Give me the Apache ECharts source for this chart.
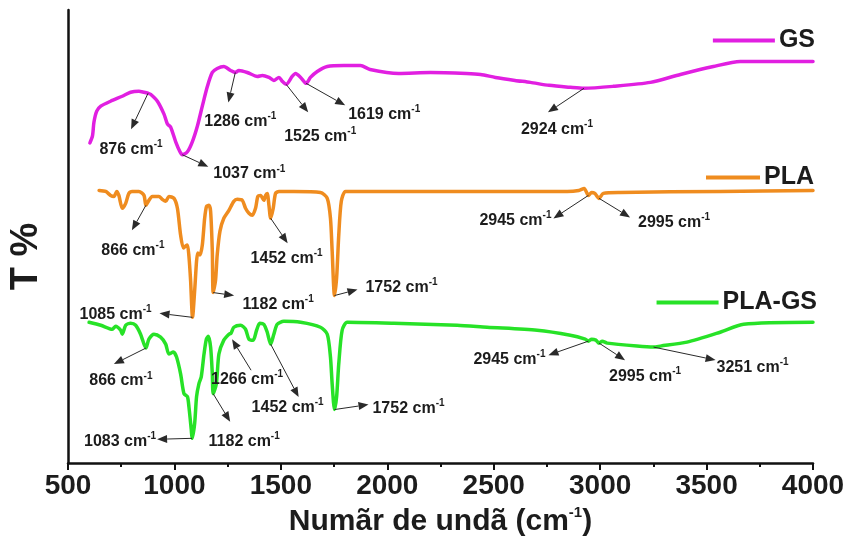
<!DOCTYPE html>
<html>
<head>
<meta charset="utf-8">
<script src="https://cdn.jsdelivr.net/npm/echarts@6/dist/echarts.min.js"></script>
<style>
  html, body { margin: 0; padding: 0; background: #ffffff; }
  #chart { width: 848px; height: 542px; }
</style>
</head>
<body>
<div id="chart"></div>
<script>
// FTIR spectra, offset transmittance (arbitrary units) vs wavenumber (cm-1)
const gsWn = [603, 615, 622, 635, 654, 700, 755, 794, 833, 857, 876, 888, 920, 951, 967, 982, 1006, 1026, 1037, 1061, 1084, 1108, 1131, 1155, 1178, 1201, 1232, 1264, 1286, 1303, 1342, 1389, 1413, 1444, 1467, 1491, 1507, 1525, 1553, 1569, 1593, 1619, 1639, 1671, 1718, 1796, 1874, 1919, 2053, 2203, 2372, 2438, 2508, 2600, 2672, 2760, 2860, 2924, 3062, 3236, 3377, 3532, 3658, 4000];
const gsT  = [323, 330, 344, 355, 360, 365, 370, 374, 375, 374, 373, 372, 365, 352, 342, 339, 324, 314, 311, 314, 324, 340, 360, 380, 394, 398, 400, 396, 394, 396, 394, 390, 391, 389, 386, 389, 385, 382, 390, 393, 389, 383, 389, 395, 400, 401, 401, 397, 393, 394, 393, 392, 389, 386, 384, 381, 379, 378, 380, 384, 392, 400, 405, 405];

const plaWn = [646, 677, 700, 716, 729, 739, 755, 771, 786, 802, 833, 857, 866, 880, 896, 927, 943, 959, 974, 998, 1014, 1029, 1042, 1053, 1061, 1068, 1076, 1085, 1096, 1104, 1110, 1120, 1131, 1142, 1151, 1162, 1170, 1178, 1182, 1193, 1201, 1214, 1232, 1256, 1279, 1295, 1319, 1334, 1350, 1366, 1381, 1392, 1405, 1420, 1428, 1436, 1444, 1452, 1464, 1475, 1491, 1561, 1686, 1718, 1733, 1741, 1752, 1762, 1772, 1784, 1804, 1874, 2344, 2845, 2900, 2925, 2945, 2960, 2975, 2995, 3015, 3095, 3564, 4000];
const plaT  = [275, 274, 270, 269, 274, 270, 257, 262, 272, 274, 274, 270, 260, 265, 269, 269, 266, 264, 269, 267, 257, 230, 217, 219, 220, 209, 184, 147, 177, 204, 212, 210, 220, 247, 259, 260, 254, 214, 172, 184, 210, 234, 247, 255, 264, 266, 265, 257, 252, 250, 257, 269, 270, 265, 270, 272, 260, 247, 257, 272, 274, 274, 273, 267, 247, 214, 169, 187, 230, 264, 274, 274, 274, 274, 275, 277, 270, 273, 272, 267, 272, 273, 274, 275];

const plaGsWn = [599, 654, 708, 724, 747, 755, 771, 794, 818, 841, 866, 880, 904, 935, 959, 974, 995, 1010, 1029, 1045, 1061, 1068, 1079, 1083, 1095, 1104, 1115, 1126, 1139, 1150, 1159, 1170, 1178, 1182, 1197, 1209, 1232, 1256, 1266, 1279, 1311, 1334, 1350, 1370, 1386, 1401, 1420, 1436, 1452, 1467, 1483, 1514, 1593, 1686, 1718, 1733, 1741, 1752, 1762, 1772, 1788, 1812, 2031, 2328, 2469, 2704, 2860, 2930, 2945, 2960, 2980, 2995, 3010, 3033, 3173, 3251, 3283, 3408, 3564, 3674, 4000];
const plaGsT  = [142, 139, 135, 138, 134, 130, 139, 141, 139, 130, 116, 125, 130, 127, 120, 110, 112, 107, 90, 70, 67, 57, 34, 25, 40, 67, 80, 87, 110, 125, 128, 117, 90, 70, 80, 110, 124, 130, 131, 137, 139, 135, 125, 124, 134, 141, 140, 132, 120, 130, 140, 143, 142, 137, 130, 107, 80, 54, 67, 100, 134, 142, 141, 139, 137, 134, 129, 125, 123, 125, 124, 121, 123, 121, 118, 117, 118, 122, 132, 140, 142];

// Labelled band positions (cm-1)
const gsPeaks    = [876, 1037, 1286, 1525, 1619, 2924];
const plaPeaks   = [866, 1085, 1182, 1452, 1752, 2945, 2995];
const plaGsPeaks = [866, 1083, 1182, 1266, 1452, 1752, 2945, 2995, 3251];

const seriesColors = ['#e11fe1', '#ef8c1f', '#27e227'];

// Callout placement in pixels, relative to the band's point on its curve.
// tip = arrow head, text = label centre, from = arrow tail (default: the curve point)
const calloutLayout = {
  'GS-876':  { tip: [-17, 36], text: [-17, 56] },
  'GS-1037': { tip: [26, 12],  text: [67, 19] },
  'GS-1286': { tip: [-7, 30],  text: [5, 49] },
  'GS-1525': { tip: [22, 28],  text: [34, 52] },
  'GS-1619': { tip: [39, 22],  text: [78, 31] },
  'GS-2924': { tip: [-36, 24], text: [-27, 41] },
  'PLA-866':  { tip: [-14, 25], text: [-13, 45] },
  'PLA-1085': { tip: [-33, -4], text: [-77, -3] },
  'PLA-1182': { tip: [21, 3],   text: [65, 12] },
  'PLA-1452': { tip: [17, 25],  text: [16, 40] },
  'PLA-1752': { tip: [23, -6],  text: [67, -8] },
  'PLA-2945': { tip: [-35, 23], text: [-73, 25] },
  'PLA-2995': { tip: [31, 19],  text: [75, 24] },
  'PLA-GS-866':  { tip: [-32, 16], text: [-25, 33] },
  'PLA-GS-1083': { tip: [-35, 1],  text: [-72, 3] },
  'PLA-GS-1182': { tip: [17, 28],  text: [31, 48] },
  'PLA-GS-1266': { from: [20, 37], tip: [1, 6], text: [16, 46] },
  'PLA-GS-1452': { tip: [28, 53],  text: [17, 63] },
  'PLA-GS-1752': { tip: [34, -5],  text: [74, -1] },
  'PLA-GS-2945': { tip: [-40, 14], text: [-79, 18] },
  'PLA-GS-2995': { tip: [26, 17],  text: [46, 33] },
  'PLA-GS-3251': { tip: [62, 13],  text: [99, 20] }
};

const spectra = [
  { name: 'GS', wn: gsWn, t: gsT, peaks: gsPeaks },
  { name: 'PLA', wn: plaWn, t: plaT, peaks: plaPeaks },
  { name: 'PLA-GS', wn: plaGsWn, t: plaGsT, peaks: plaGsPeaks }
];

const FONT = '"Liberation Sans", Arial, sans-serif';
const INK = '#1c1c1c';

const chart = echarts.init(document.getElementById('chart'), null, { renderer: 'canvas' });

function legendFor(name, right, top, width) {
  return {
    data: [name], right: right, top: top, padding: 0,
    icon: 'rect', itemWidth: width, itemHeight: 4, itemGap: 0,
    selectedMode: false,
    textStyle: { fontFamily: FONT, fontWeight: 'bold', fontSize: 25, color: INK, padding: [0, 0, 0, -1] }
  };
}

chart.setOption({
  animation: false,
  backgroundColor: '#ffffff',
  grid: { left: 67, right: 35, top: 10, bottom: 75, containLabel: false },
  legend: [
    legendFor('GS', 33, 28, 62),
    legendFor('PLA', 34, 165, 54),
    legendFor('PLA-GS', 31, 290, 62)
  ],
  xAxis: {
    type: 'value', min: 500, max: 4000, interval: 500,
    name: '{n|Numãr de undã (cm}{s|-1}{n|)}',
    nameLocation: 'middle', nameGap: 34,
    nameTextStyle: {
      rich: {
        n: { fontFamily: FONT, fontWeight: 'bold', fontSize: 30, color: INK, lineHeight: 34 },
        s: { fontFamily: FONT, fontWeight: 'bold', fontSize: 15, color: INK, lineHeight: 18, verticalAlign: 'top' }
      }
    },
    axisLine: { show: true, onZero: false, lineStyle: { color: '#111', width: 2.5 } },
    axisTick: { show: true, inside: false, length: 7, lineStyle: { color: '#111', width: 2 } },
    minorTick: { show: true, splitNumber: 2, length: 4, lineStyle: { color: '#111', width: 2 } },
    axisLabel: {
      fontFamily: FONT, fontWeight: 'bold', fontSize: 28, color: INK, margin: 9,
      formatter: v => String(v)
    },
    splitLine: { show: false }
  },
  yAxis: {
    type: 'value', min: 0, max: 457,
    name: 'T %', nameLocation: 'middle', nameGap: 22, nameRotate: 90,
    nameTextStyle: {
      fontFamily: FONT, fontWeight: 'bold', fontSize: 38, color: INK,
      padding: [0, 40, 0, 0]
    },
    axisLine: { show: true, onZero: false, lineStyle: { color: '#111', width: 2.5 } },
    axisTick: { show: false },
    axisLabel: { show: false },
    splitLine: { show: false }
  },
  series: spectra.map((s, i) => ({
    name: s.name,
    type: 'line',
    data: s.wn.map((w, k) => [w, s.t[k]]),
    symbol: 'none',
    smooth: 0.25,
    color: seriesColors[i],
    lineStyle: { color: seriesColors[i], width: 3.5, cap: 'round', join: 'round' },
    z: 2
  }))
});

function valueAt(x, xs, ys) {
  for (let k = 0; k < xs.length - 1; k++) {
    if (x >= xs[k] && x <= xs[k + 1]) {
      const f = (x - xs[k]) / (xs[k + 1] - xs[k]);
      return ys[k] + f * (ys[k + 1] - ys[k]);
    }
  }
  return ys[ys.length - 1];
}

const calloutRich = {
  n: { fontFamily: FONT, fontWeight: 'bold', fontSize: 16, fill: INK, color: INK, lineHeight: 20 },
  s: { fontFamily: FONT, fontWeight: 'bold', fontSize: 10, fill: INK, color: INK, lineHeight: 11, verticalAlign: 'top' }
};

function drawCallouts() {
  const elements = [];
  spectra.forEach(s => {
    s.peaks.forEach(p => {
      const lay = calloutLayout[s.name + '-' + p];
      const pt = chart.convertToPixel({ gridIndex: 0 }, [p, valueAt(p, s.wn, s.t)]);
      const from = lay.from || [0, 0];
      const x1 = pt[0] + from[0], y1 = pt[1] + from[1];
      const x2 = pt[0] + lay.tip[0], y2 = pt[1] + lay.tip[1];
      const dx = x2 - x1, dy = y2 - y1, len = Math.hypot(dx, dy) || 1;
      const ux = dx / len, uy = dy / len;
      const hl = 10, hw = 4;
      const bx = x2 - ux * hl, by = y2 - uy * hl;
      elements.push({
        type: 'line', silent: true, z: 10,
        shape: { x1: x1, y1: y1, x2: bx, y2: by },
        style: { stroke: '#2a2a2a', lineWidth: 1 }
      });
      elements.push({
        type: 'polygon', silent: true, z: 10,
        shape: { points: [[x2, y2], [bx - uy * hw, by + ux * hw], [bx + uy * hw, by - ux * hw]] },
        style: { fill: '#2a2a2a' }
      });
      elements.push({
        type: 'text', silent: true, z: 11,
        x: pt[0] + lay.text[0], y: pt[1] + lay.text[1],
        style: {
          text: '{n|' + p + ' cm}{s|-1}',
          rich: calloutRich,
          align: 'center', verticalAlign: 'middle'
        }
      });
    });
  });
  chart.setOption({ graphic: elements });
}

drawCallouts();
</script>
</body>
</html>
